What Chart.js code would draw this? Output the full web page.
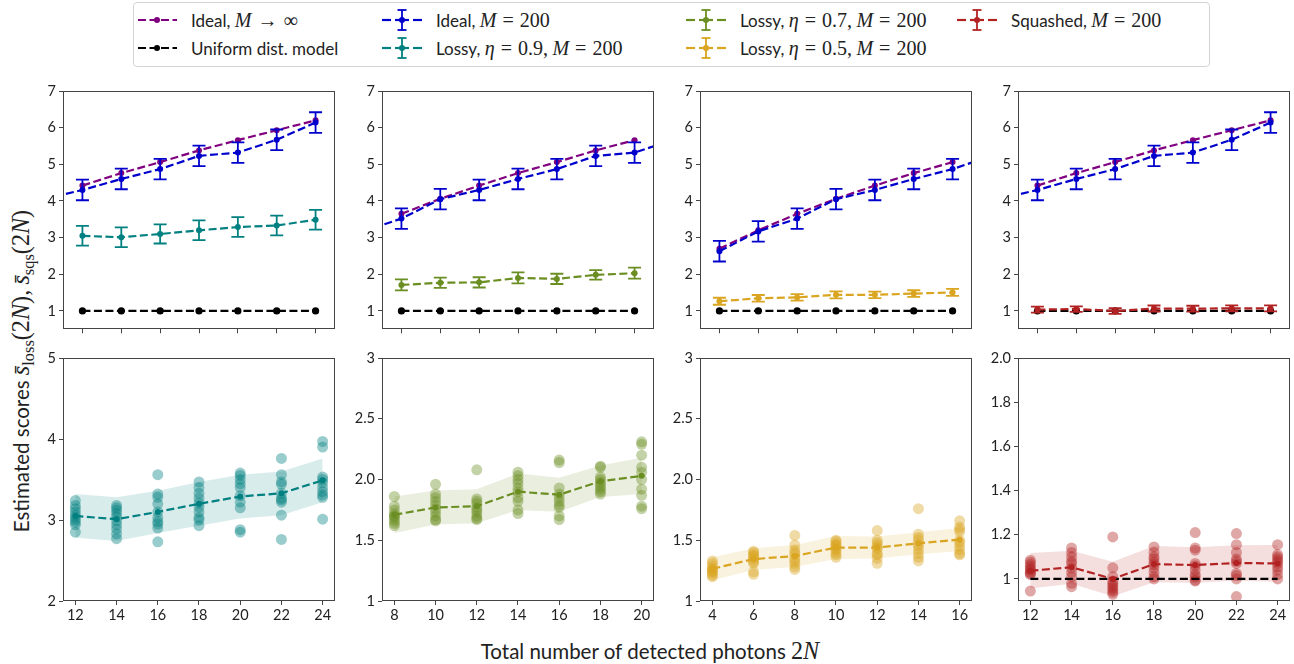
<!DOCTYPE html>
<html>
<head>
<meta charset="utf-8">
<title>Estimated scores vs. detected photons</title>
<script src="https://cdn.jsdelivr.net/npm/chart.js@4.4.1/dist/chart.umd.min.js"></script>
<style>
  html, body { margin: 0; padding: 0; background: #fff; }
  body { position: relative; width: 1294px; height: 664px; overflow: hidden; font-family: Lato, "DejaVu Sans", sans-serif; color: #222; }
  canvas.panel { position: absolute; }
  .mi { font-family: "Liberation Serif", "DejaVu Serif", serif; font-style: italic; font-size: 1.18em; }
  .mr { font-family: "Liberation Serif", "DejaVu Serif", serif; font-size: 1.18em; }
  .op { font-family: "Liberation Serif", "DejaVu Serif", serif; font-size: 1.18em; margin: 0 0.3em; }
  sub.mr { font-size: 0.8em; }
  #legend { position: absolute; left: 133px; top: 2px; width: 1077px; height: 65px; box-sizing: border-box; border: 1px solid #d4d4d4; border-radius: 4px; }
  .entry { position: absolute; height: 26px; display: flex; align-items: center; font-size: 17px; white-space: nowrap; }
  .entry svg { margin-right: 14px; flex: none; }
  #ylabel { position: absolute; left: 23px; top: 371px; transform: translate(-50%, -50%) rotate(-90deg); font-size: 20.5px; white-space: nowrap; }
  #xlabel { position: absolute; left: 650px; top: 651px; transform: translate(-50%, -50%); font-size: 20.5px; white-space: nowrap; }
</style>
</head>
<body>
<div id="legend"></div>
<div id="ylabel">Estimated scores <span class="mi">s̄</span><sub class="mr">loss</sub><span class="mr">(2</span><span class="mi">N</span><span class="mr">),</span> <span class="mi">s̄</span><sub class="mr">sqs</sub><span class="mr">(2</span><span class="mi">N</span><span class="mr">)</span></div>
<div id="xlabel">Total number of detected photons <span class="mr">2</span><span class="mi">N</span></div>

<script>
// photon numbers 2N covered by the ideal simulations
const photonsAll = [4, 6, 8, 10, 12, 14, 16, 18, 20, 22, 24];
const idealInf = [2.70, 3.20, 3.65, 4.06, 4.42, 4.76, 5.06, 5.38, 5.66, 5.93, 6.20];
const ideal200 = [2.63, 3.17, 3.52, 4.05, 4.30, 4.60, 4.87, 5.23, 5.32, 5.67, 6.14];
const ideal200Err = [0.28, 0.28, 0.28, 0.28, 0.28, 0.28, 0.28, 0.28, 0.28, 0.28, 0.28];
const uniformModel = [1, 1, 1, 1, 1, 1, 1, 1, 1, 1, 1];

// lossy, eta = 0.9
const photonsLossy09 = [12, 14, 16, 18, 20, 22, 24];
const lossy09Mean = [3.05, 3.01, 3.10, 3.20, 3.29, 3.33, 3.49];
const lossy09Err = [0.27, 0.27, 0.26, 0.27, 0.27, 0.27, 0.27];
const lossy09Runs = [
  [3.24, 3.18, 3.14, 3.10, 3.06, 3.03, 3.00, 2.97, 2.94, 2.85],
  [3.18, 3.15, 3.12, 3.08, 3.04, 2.99, 2.94, 2.89, 2.83, 2.77],
  [3.56, 3.32, 3.28, 3.20, 3.10, 3.03, 2.98, 2.95, 2.90, 2.73],
  [3.47, 3.40, 3.33, 3.27, 3.21, 3.16, 3.10, 3.03, 3.00, 2.93],
  [3.58, 3.55, 3.50, 3.45, 3.40, 3.30, 3.22, 3.15, 2.88, 2.85],
  [3.76, 3.56, 3.47, 3.44, 3.33, 3.27, 3.25, 3.22, 3.06, 2.76],
  [3.97, 3.90, 3.53, 3.50, 3.46, 3.40, 3.35, 3.31, 3.28, 3.01]
];

// lossy, eta = 0.7
const photonsLossy07 = [8, 10, 12, 14, 16, 18, 20];
const lossy07Mean = [1.71, 1.77, 1.78, 1.90, 1.875, 1.985, 2.03];
const lossy07Err = [0.15, 0.14, 0.14, 0.15, 0.14, 0.13, 0.15];
const lossy07Runs = [
  [1.86, 1.78, 1.75, 1.72, 1.70, 1.70, 1.68, 1.66, 1.64, 1.62],
  [1.96, 1.88, 1.85, 1.82, 1.79, 1.76, 1.73, 1.70, 1.67, 1.66],
  [2.08, 1.84, 1.82, 1.80, 1.77, 1.75, 1.73, 1.70, 1.68, 1.67],
  [2.06, 2.03, 2.00, 1.97, 1.93, 1.90, 1.85, 1.82, 1.75, 1.72],
  [2.16, 2.14, 1.93, 1.88, 1.85, 1.82, 1.79, 1.77, 1.70, 1.67],
  [2.11, 2.10, 2.02, 2.00, 1.98, 1.96, 1.94, 1.92, 1.90, 1.88],
  [2.31, 2.29, 2.20, 2.10, 2.06, 2.00, 1.92, 1.87, 1.78, 1.76]
];

// lossy, eta = 0.5
const photonsLossy05 = [4, 6, 8, 10, 12, 14, 16];
const lossy05Mean = [1.265, 1.345, 1.37, 1.44, 1.44, 1.475, 1.505];
const lossy05Err = [0.095, 0.09, 0.09, 0.095, 0.09, 0.09, 0.095];
const lossy05Runs = [
  [1.33, 1.31, 1.29, 1.27, 1.26, 1.25, 1.24, 1.23, 1.21, 1.20],
  [1.41, 1.40, 1.38, 1.37, 1.36, 1.34, 1.32, 1.31, 1.24, 1.22],
  [1.54, 1.46, 1.42, 1.40, 1.38, 1.35, 1.33, 1.31, 1.28, 1.26],
  [1.50, 1.49, 1.47, 1.46, 1.45, 1.43, 1.42, 1.40, 1.38, 1.36],
  [1.58, 1.50, 1.48, 1.46, 1.44, 1.43, 1.39, 1.38, 1.35, 1.31],
  [1.76, 1.55, 1.52, 1.50, 1.47, 1.45, 1.42, 1.39, 1.36, 1.33],
  [1.66, 1.61, 1.59, 1.57, 1.50, 1.48, 1.45, 1.42, 1.39, 1.38]
];

// squashed states
const photonsSquashed = [12, 14, 16, 18, 20, 22, 24];
const squashedMean = [1.037, 1.053, 1.0, 1.067, 1.063, 1.072, 1.07];
const squashedErr = [0.08, 0.075, 0.078, 0.082, 0.08, 0.08, 0.083];
const squashedRuns = [
  [1.085, 1.075, 1.065, 1.055, 1.045, 1.04, 1.03, 1.025, 1.02, 0.945],
  [1.14, 1.12, 1.10, 1.08, 1.07, 1.05, 1.03, 1.01, 0.98, 0.965],
  [1.19, 1.05, 1.01, 0.99, 0.98, 0.97, 0.96, 0.95, 0.94, 0.93],
  [1.145, 1.12, 1.10, 1.09, 1.075, 1.065, 1.05, 1.03, 1.01, 1.0],
  [1.21, 1.14, 1.13, 1.07, 1.06, 1.04, 1.02, 1.01, 0.995, 0.99],
  [1.205, 1.155, 1.12, 1.09, 1.08, 1.07, 1.025, 1.015, 1.0, 0.92],
  [1.155, 1.11, 1.10, 1.09, 1.08, 1.07, 1.055, 1.04, 1.02, 1.0]
];

// axis ticks
const scoreTicks = [1, 2, 3, 4, 5, 6, 7];
const scoreTickLabels = ["1", "2", "3", "4", "5", "6", "7"];
const loss09Ticks = [2, 3, 4, 5];
const loss09TickLabels = ["2", "3", "4", "5"];
const lossTicks = [1, 1.5, 2, 2.5, 3];
const lossTickLabels = ["1", "1.5", "2.0", "2.5", "3"];
const sqsTicks = [1, 1.2, 1.4, 1.6, 1.8, 2.0];
const sqsTickLabels = ["1", "1.2", "1.4", "1.6", "1.8", "2.0"];

const COLORS = {
  purple: "#800080",
  blue: "#0000cd",
  teal: "#008080",
  olive: "#6b8e23",
  gold: "#daa520",
  red: "#b22222",
  black: "#000000"
};

const M200 = '<span class="mi">M</span><span class="op">=</span><span class="mr">200</span>';
const eta = v => `<span class="mi">η</span><span class="op">=</span><span class="mr">${v},</span>&nbsp;`;

const legendEntries = [
  { color: COLORS.purple, err: false, html: 'Ideal, <span class="mi">M</span><span class="op">→</span><span class="mr">∞</span>' },
  { color: COLORS.black, err: false, html: "Uniform dist. model" },
  { color: COLORS.blue, err: true, html: "Ideal, " + M200 },
  { color: COLORS.teal, err: true, html: "Lossy, " + eta("0.9") + M200 },
  { color: COLORS.olive, err: true, html: "Lossy, " + eta("0.7") + M200 },
  { color: COLORS.gold, err: true, html: "Lossy, " + eta("0.5") + M200 },
  { color: COLORS.red, err: true, html: "Squashed, " + M200 }
];

const PLOT_W = 272;
const COLS = [63, 382, 700, 1018];
const TOP_ROW = { top: 91, height: 242 };
const BOTTOM_ROW = { top: 358, height: 243 };
const PAD_L = 48, PAD_R = 14, PAD_T = 12;
const TICK_FONT = { family: "Lato, 'DejaVu Sans', sans-serif", size: 14.5 };

function rgba(hex, a) {
  const n = parseInt(hex.slice(1), 16);
  return `rgba(${(n >> 16) & 255}, ${(n >> 8) & 255}, ${n & 255}, ${a})`;
}

function pick(xs) {
  return (values) => xs.map(x => values[photonsAll.indexOf(x)]);
}

function points(xs, ys) {
  return xs.map((x, i) => ({ x, y: ys[i] }));
}

function dashedSeries(xs, ys, color, extra = {}) {
  return Object.assign({
    type: "line",
    data: points(xs, ys),
    borderColor: color,
    backgroundColor: color,
    borderWidth: 2.2,
    borderDash: [8, 3.5],
    pointRadius: 3,
    pointBackgroundColor: color,
    pointBorderWidth: 0,
    pointHoverRadius: 0,
    tension: 0,
    fill: false,
    clip: 0
  }, extra);
}

// errorbars: vertical bar + caps for datasets that carry an "errors" array
const errorBarPlugin = {
  id: "errorBars",
  afterDatasetsDraw(chart) {
    const { ctx, chartArea, scales } = chart;
    ctx.save();
    ctx.beginPath();
    ctx.rect(chartArea.left, chartArea.top, chartArea.width, chartArea.height);
    ctx.clip();
    chart.data.datasets.forEach(ds => {
      if (!ds.errors) return;
      ctx.strokeStyle = ds.borderColor;
      ctx.lineWidth = 1.8;
      ctx.setLineDash([]);
      ds.data.forEach((p, i) => {
        const px = scales.x.getPixelForValue(p.x);
        const hi = scales.y.getPixelForValue(p.y + ds.errors[i]);
        const lo = scales.y.getPixelForValue(p.y - ds.errors[i]);
        const cap = 6.5;
        ctx.beginPath();
        ctx.moveTo(px, hi); ctx.lineTo(px, lo);
        ctx.moveTo(px - cap, hi); ctx.lineTo(px + cap, hi);
        ctx.moveTo(px - cap, lo); ctx.lineTo(px + cap, lo);
        ctx.stroke();
      });
    });
    ctx.restore();
  }
};

// box around the plotting area
const framePlugin = {
  id: "frame",
  afterDraw(chart) {
    const { ctx, chartArea: a } = chart;
    ctx.save();
    ctx.strokeStyle = "#444";
    ctx.lineWidth = 1;
    ctx.strokeRect(Math.round(a.left) + 0.5, Math.round(a.top) + 0.5, Math.round(a.width) - 1, Math.round(a.height) - 1);
    ctx.restore();
  }
};

function makePanel({ col, row, xs, margin, showX, yMin, yMax, yTicks, yLabels, datasets }) {
  const padB = showX ? 30 : 8;
  const canvas = document.createElement("canvas");
  canvas.className = "panel";
  canvas.width = PLOT_W + PAD_L + PAD_R;
  canvas.height = row.height + PAD_T + padB;
  canvas.style.left = (COLS[col] - PAD_L) + "px";
  canvas.style.top = (row.top - PAD_T) + "px";
  document.body.appendChild(canvas);

  const tickGrid = { display: true, drawOnChartArea: false, drawTicks: true, tickLength: 4, color: "#444", tickColor: "#444", lineWidth: 1 };

  return new Chart(canvas.getContext("2d"), {
    type: "line",
    data: { datasets },
    options: {
      responsive: false,
      animation: false,
      events: [],
      layout: { padding: { top: PAD_T, right: PAD_R, left: 0, bottom: 0 } },
      plugins: { legend: { display: false }, tooltip: { enabled: false } },
      scales: {
        x: {
          type: "linear",
          min: xs[0] - margin,
          max: xs[xs.length - 1] + margin,
          afterBuildTicks: s => { s.ticks = xs.map(v => ({ value: v })); },
          afterFit: s => { s.height = padB; },
          ticks: { display: showX, autoSkip: false, maxRotation: 0, padding: 2, color: "#222", font: TICK_FONT, callback: v => String(v) },
          grid: tickGrid,
          border: { display: false }
        },
        y: {
          type: "linear",
          min: yMin,
          max: yMax,
          afterBuildTicks: s => { s.ticks = yTicks.map(v => ({ value: v })); },
          afterFit: s => { s.width = PAD_L; },
          ticks: { autoSkip: false, padding: 3, color: "#222", font: TICK_FONT, callback: (v, i) => yLabels[i] },
          grid: tickGrid,
          border: { display: false }
        }
      }
    },
    plugins: [errorBarPlugin, framePlugin]
  });
}

// upper row: mean scores with errorbars
function topDatasets(xs, mean, err, color) {
  const sub = pick(xs);
  return [
    dashedSeries(xs, sub(idealInf), COLORS.purple, { order: 4 }),
    dashedSeries(xs, sub(uniformModel), COLORS.black, { order: 3, pointRadius: 3.6 }),
    dashedSeries(photonsAll, ideal200, COLORS.blue, { order: 2, errors: ideal200Err }),
    dashedSeries(xs, mean, color, { order: 1, errors: err })
  ];
}

// lower row: individual runs, mean and one-sigma band
function bottomDatasets(xs, mean, err, runs, color, withUniform) {
  const runPoints = runs.flatMap((r, i) => r.map(y => ({ x: xs[i], y })));
  const sets = [
    {
      type: "line", order: 9, data: points(xs, mean.map((m, i) => m + err[i])),
      borderWidth: 0, borderColor: "transparent", pointRadius: 0, tension: 0,
      backgroundColor: rgba(color, 0.15), fill: "+1", clip: 0
    },
    {
      type: "line", order: 8, data: points(xs, mean.map((m, i) => m - err[i])),
      borderWidth: 0, borderColor: "transparent", pointRadius: 0, tension: 0, fill: false, clip: 0
    },
    {
      type: "line", order: 5, data: runPoints, showLine: false,
      pointRadius: 5.5, pointBorderWidth: 0, pointHoverRadius: 0,
      pointBackgroundColor: rgba(color, 0.4), backgroundColor: rgba(color, 0.4), clip: 0
    },
    dashedSeries(xs, mean, color, { order: 1 })
  ];
  if (withUniform) {
    sets.push(dashedSeries(xs, pick(xs)(uniformModel), COLORS.black, { order: 2, pointRadius: 0 }));
  }
  return sets;
}

function buildLegend() {
  const colX = [137, 382, 686, 957];
  const rowY = [20, 48];
  legendEntries.forEach((e, i) => {
    const div = document.createElement("div");
    div.className = "entry";
    div.style.left = colX[Math.floor(i / 2)] + "px";
    div.style.top = (rowY[i % 2] - 13) + "px";
    const line = e.err
      ? `<line x1="0" y1="13" x2="9" y2="13"/><line x1="31" y1="13" x2="40" y2="13"/>
         <line x1="20" y1="3" x2="20" y2="23" stroke-width="1.8"/>
         <line x1="15.5" y1="3" x2="24.5" y2="3" stroke-width="1.8"/><line x1="15.5" y1="23" x2="24.5" y2="23" stroke-width="1.8"/>
         <line x1="13" y1="13" x2="27" y2="13"/>`
      : `<line x1="0" y1="13" x2="40" y2="13" stroke-dasharray="8 3.5" stroke-dashoffset="-1"/>`;
    div.innerHTML = `<svg width="40" height="26" viewBox="0 0 40 26" stroke="${e.color}" stroke-width="2.2" fill="none">${line}<circle cx="20" cy="13" r="3" fill="${e.color}" stroke="none"/></svg><span>${e.html}</span>`;
    document.body.appendChild(div);
  });
}

buildLegend();

makePanel({ col: 0, row: TOP_ROW, xs: photonsLossy09, margin: 1, showX: false, yMin: 0.5, yMax: 7, yTicks: scoreTicks, yLabels: scoreTickLabels,
  datasets: topDatasets(photonsLossy09, lossy09Mean, lossy09Err, COLORS.teal) });
makePanel({ col: 1, row: TOP_ROW, xs: photonsLossy07, margin: 1, showX: false, yMin: 0.5, yMax: 7, yTicks: scoreTicks, yLabels: scoreTickLabels,
  datasets: topDatasets(photonsLossy07, lossy07Mean, lossy07Err, COLORS.olive) });
makePanel({ col: 2, row: TOP_ROW, xs: photonsLossy05, margin: 1, showX: false, yMin: 0.5, yMax: 7, yTicks: scoreTicks, yLabels: scoreTickLabels,
  datasets: topDatasets(photonsLossy05, lossy05Mean, lossy05Err, COLORS.gold) });
makePanel({ col: 3, row: TOP_ROW, xs: photonsSquashed, margin: 1, showX: false, yMin: 0.5, yMax: 7, yTicks: scoreTicks, yLabels: scoreTickLabels,
  datasets: topDatasets(photonsSquashed, squashedMean, squashedErr, COLORS.red) });

makePanel({ col: 0, row: BOTTOM_ROW, xs: photonsLossy09, margin: 0.6, showX: true, yMin: 2, yMax: 5, yTicks: loss09Ticks, yLabels: loss09TickLabels,
  datasets: bottomDatasets(photonsLossy09, lossy09Mean, lossy09Err, lossy09Runs, COLORS.teal, false) });
makePanel({ col: 1, row: BOTTOM_ROW, xs: photonsLossy07, margin: 0.6, showX: true, yMin: 1, yMax: 3, yTicks: lossTicks, yLabels: lossTickLabels,
  datasets: bottomDatasets(photonsLossy07, lossy07Mean, lossy07Err, lossy07Runs, COLORS.olive, false) });
makePanel({ col: 2, row: BOTTOM_ROW, xs: photonsLossy05, margin: 0.6, showX: true, yMin: 1, yMax: 3, yTicks: lossTicks, yLabels: lossTickLabels,
  datasets: bottomDatasets(photonsLossy05, lossy05Mean, lossy05Err, lossy05Runs, COLORS.gold, false) });
makePanel({ col: 3, row: BOTTOM_ROW, xs: photonsSquashed, margin: 0.6, showX: true, yMin: 0.9, yMax: 2.0, yTicks: sqsTicks, yLabels: sqsTickLabels,
  datasets: bottomDatasets(photonsSquashed, squashedMean, squashedErr, squashedRuns, COLORS.red, true) });
</script>
</body>
</html>
